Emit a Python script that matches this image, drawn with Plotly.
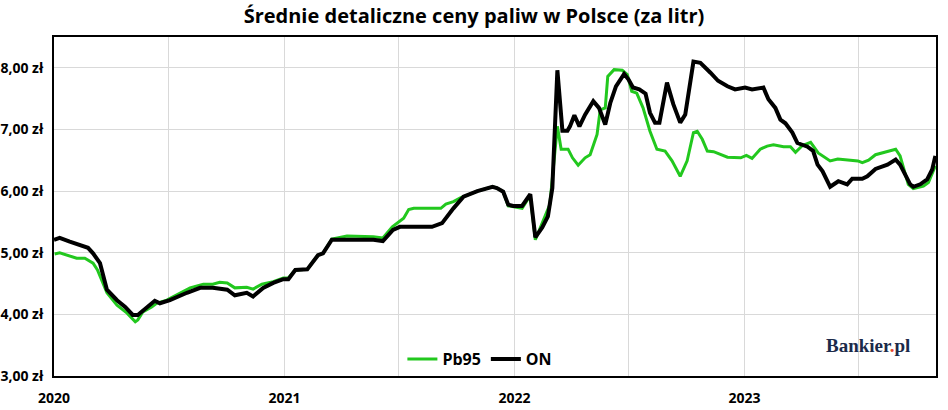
import plotly.graph_objects as go

# ceny ON (olej napędowy), zł/litr
on_dates = [
    "2020-01-01", "2020-01-10", "2020-01-26", "2020-02-11", "2020-02-24", "2020-03-03",
    "2020-03-14", "2020-03-25", "2020-04-10", "2020-04-23", "2020-05-05", "2020-05-13",
    "2020-05-25", "2020-06-09", "2020-06-17", "2020-07-03", "2020-07-30", "2020-08-20",
    "2020-09-09", "2020-10-02", "2020-10-14", "2020-11-02", "2020-11-12", "2020-11-28",
    "2020-12-14", "2020-12-30", "2021-01-07", "2021-01-18", "2021-02-06", "2021-02-23",
    "2021-03-03", "2021-03-17", "2021-05-22", "2021-06-06", "2021-06-22", "2021-07-03",
    "2021-08-23", "2021-09-08", "2021-09-26", "2021-10-12", "2021-11-03", "2021-11-27",
    "2021-12-04", "2021-12-14", "2021-12-22", "2021-12-30", "2022-01-13", "2022-01-26",
    "2022-02-03", "2022-02-14", "2022-02-23", "2022-03-02", "2022-03-10", "2022-03-18",
    "2022-03-26", "2022-03-30", "2022-04-06", "2022-04-14", "2022-04-23", "2022-05-06",
    "2022-05-15", "2022-05-25", "2022-06-02", "2022-06-11", "2022-06-24", "2022-07-01",
    "2022-07-08", "2022-07-18", "2022-07-28", "2022-08-04", "2022-08-12", "2022-08-19",
    "2022-08-31", "2022-09-10", "2022-09-21", "2022-09-29", "2022-10-12", "2022-10-23",
    "2022-11-08", "2022-11-20", "2022-12-05", "2022-12-17", "2023-01-02", "2023-01-13",
    "2023-01-31", "2023-02-08", "2023-02-19", "2023-02-27", "2023-03-07", "2023-03-18",
    "2023-03-26", "2023-03-31", "2023-04-11", "2023-04-20", "2023-04-27", "2023-05-05",
    "2023-05-17", "2023-05-30", "2023-06-13", "2023-06-21", "2023-07-07", "2023-07-15",
    "2023-07-28", "2023-08-16", "2023-08-29", "2023-09-05", "2023-09-21", "2023-09-26",
    "2023-10-07", "2023-10-18", "2023-10-26", "2023-10-31",
]
on_prices = [
    5.21, 5.24, 5.18, 5.13, 5.08, 4.99,
    4.83, 4.40, 4.23, 4.12, 3.99, 3.99,
    4.10, 4.22, 4.18, 4.23, 4.35, 4.43,
    4.43, 4.40, 4.31, 4.35, 4.29, 4.43,
    4.51, 4.57, 4.57, 4.72, 4.73, 4.96,
    4.99, 5.21, 5.21, 5.19, 5.37, 5.42,
    5.42, 5.48, 5.72, 5.91, 6.00, 6.07,
    6.05, 5.99, 5.78, 5.76, 5.76, 5.95,
    5.25, 5.41, 5.59, 6.05, 7.96, 6.98,
    6.98, 7.05, 7.23, 7.05, 7.24, 7.46,
    7.35, 7.08, 7.43, 7.70, 7.90, 7.81,
    7.68, 7.65, 7.58, 7.27, 7.11, 7.11,
    7.76, 7.41, 7.11, 7.24, 8.10, 8.08,
    7.92, 7.79, 7.70, 7.65, 7.68, 7.65,
    7.68, 7.49, 7.35, 7.16, 7.10, 6.95,
    6.78, 6.76, 6.72, 6.65, 6.43, 6.32,
    6.07, 6.16, 6.11, 6.20, 6.20, 6.24,
    6.36, 6.43, 6.51, 6.43, 6.11, 6.07,
    6.11, 6.19, 6.35, 6.57,
]

# ceny Pb95, zł/litr
pb_dates = [
    "2020-01-02", "2020-01-10", "2020-02-06", "2020-02-19", "2020-03-03", "2020-03-10",
    "2020-03-25", "2020-04-10", "2020-04-26", "2020-05-09", "2020-05-13", "2020-05-21",
    "2020-06-04", "2020-06-12", "2020-06-28", "2020-07-19", "2020-08-04", "2020-08-25",
    "2020-09-09", "2020-09-20", "2020-10-02", "2020-10-14", "2020-11-02", "2020-11-12",
    "2020-11-26", "2020-12-14", "2020-12-30", "2021-01-07", "2021-01-18", "2021-02-06",
    "2021-02-23", "2021-03-03", "2021-03-17", "2021-04-10", "2021-05-22", "2021-06-06",
    "2021-06-21", "2021-07-09", "2021-07-17", "2021-07-25", "2021-09-06", "2021-09-14",
    "2021-09-26", "2021-10-07", "2021-11-03", "2021-11-27", "2021-12-04", "2021-12-14",
    "2021-12-22", "2022-01-13", "2022-01-26", "2022-02-03", "2022-02-26", "2022-03-10",
    "2022-03-16", "2022-03-27", "2022-04-03", "2022-04-12", "2022-04-23", "2022-05-01",
    "2022-05-12", "2022-05-17", "2022-05-25", "2022-05-29", "2022-06-08", "2022-06-21",
    "2022-06-29", "2022-07-06", "2022-07-14", "2022-07-24", "2022-08-04", "2022-08-15",
    "2022-08-28", "2022-09-08", "2022-09-21", "2022-10-02", "2022-10-12", "2022-10-18",
    "2022-10-26", "2022-11-03", "2022-11-13", "2022-12-05", "2022-12-26", "2023-01-04",
    "2023-01-13", "2023-01-26", "2023-02-06", "2023-02-16", "2023-03-04", "2023-03-15",
    "2023-03-23", "2023-04-03", "2023-04-16", "2023-04-28", "2023-05-17", "2023-05-29",
    "2023-06-30", "2023-07-07", "2023-07-17", "2023-07-28", "2023-08-29", "2023-09-05",
    "2023-09-18", "2023-09-26", "2023-10-12", "2023-10-20", "2023-10-31",
]
pb_prices = [
    4.98, 5.00, 4.91, 4.91, 4.83, 4.72,
    4.35, 4.15, 4.02, 3.88, 3.91, 4.04,
    4.12, 4.18, 4.23, 4.35, 4.43, 4.49,
    4.49, 4.52, 4.51, 4.43, 4.44, 4.41,
    4.49, 4.53, 4.59, 4.59, 4.72, 4.73,
    4.96, 4.99, 5.22, 5.27, 5.26, 5.24,
    5.42, 5.56, 5.70, 5.72, 5.72, 5.79,
    5.83, 5.89, 6.00, 6.07, 6.05, 5.99,
    5.76, 5.72, 5.93, 5.21, 5.78, 7.05,
    6.68, 6.68, 6.54, 6.42, 6.54, 6.59,
    6.92, 7.32, 7.35, 7.86, 7.97, 7.96,
    7.89, 7.62, 7.59, 7.35, 6.97, 6.68,
    6.65, 6.49, 6.24, 6.49, 6.95, 6.97,
    6.84, 6.65, 6.64, 6.55, 6.54, 6.58,
    6.53, 6.68, 6.73, 6.75, 6.72, 6.72,
    6.63, 6.74, 6.79, 6.62, 6.49, 6.52,
    6.49, 6.46, 6.50, 6.59, 6.68, 6.57,
    6.11, 6.04, 6.08, 6.14, 6.41,
]

fig = go.Figure()

fig.add_trace(go.Scatter(
    x=pb_dates, y=pb_prices, mode='lines', name='Pb95',
    line=dict(color='#22c81e', width=3)
))
fig.add_trace(go.Scatter(
    x=on_dates, y=on_prices, mode='lines', name='ON',
    line=dict(color='black', width=4)
))

fig.update_layout(
    width=948, height=410,
    margin=dict(l=54, r=12, t=37, b=34, autoexpand=False),
    paper_bgcolor='white', plot_bgcolor='white',
    separators=', ',
    title=dict(
        text='Średnie detaliczne ceny paliw w Polsce (za litr)',
        x=0.5, xanchor='center', y=0.96, yanchor='middle',
        font=dict(family='Open Sans', size=20, color='black', weight='bold')
    ),
    font=dict(family='Open Sans', color='black'),
    legend=dict(
        orientation='h', x=0.395, xanchor='left', y=0.05, yanchor='middle',
        bgcolor='rgba(0,0,0,0)', itemwidth=30,
        font=dict(family='Open Sans', size=16, weight='bold')
    ),
    xaxis=dict(
        range=['2020-01-01', '2023-11-01'],
        dtick='M12', tickformat='%Y', tick0='2020-01-01',
        showgrid=True, gridcolor='#d9d9d9', gridwidth=1,
        minor=dict(dtick='M6', showgrid=True, gridcolor='#d9d9d9', gridwidth=1),
        showline=True, linecolor='black', linewidth=2, mirror=True,
        ticks='', ticklabelstandoff=8, automargin=False,
        tickfont=dict(family='Open Sans', size=14, weight='bold'),
        zeroline=False
    ),
    yaxis=dict(
        range=[3, 8.5], dtick=1, tick0=3,
        tickformat='.2f', ticksuffix=' zł',
        showgrid=True, gridcolor='#d9d9d9', gridwidth=1,
        showline=True, linecolor='black', linewidth=2, mirror=True,
        ticks='', ticklabelstandoff=6, automargin=False,
        tickfont=dict(family='Open Sans', size=14, weight='bold'),
        zeroline=False
    ),
    annotations=[dict(
        text="Bankier<span style='color:#e8452c'>.</span>pl",
        xref='paper', yref='paper', x=0.973, y=0.09,
        xanchor='right', yanchor='middle', showarrow=False,
        font=dict(family='Liberation Serif', size=19, color='#1b2a4a', weight='bold')
    )]
)

# strona bez domyślnego marginesu body, żeby wykres zajął całe okno
fig.write_html("out.html", config={'displayModeBar': False},
               post_script="document.body.style.margin='0';")
